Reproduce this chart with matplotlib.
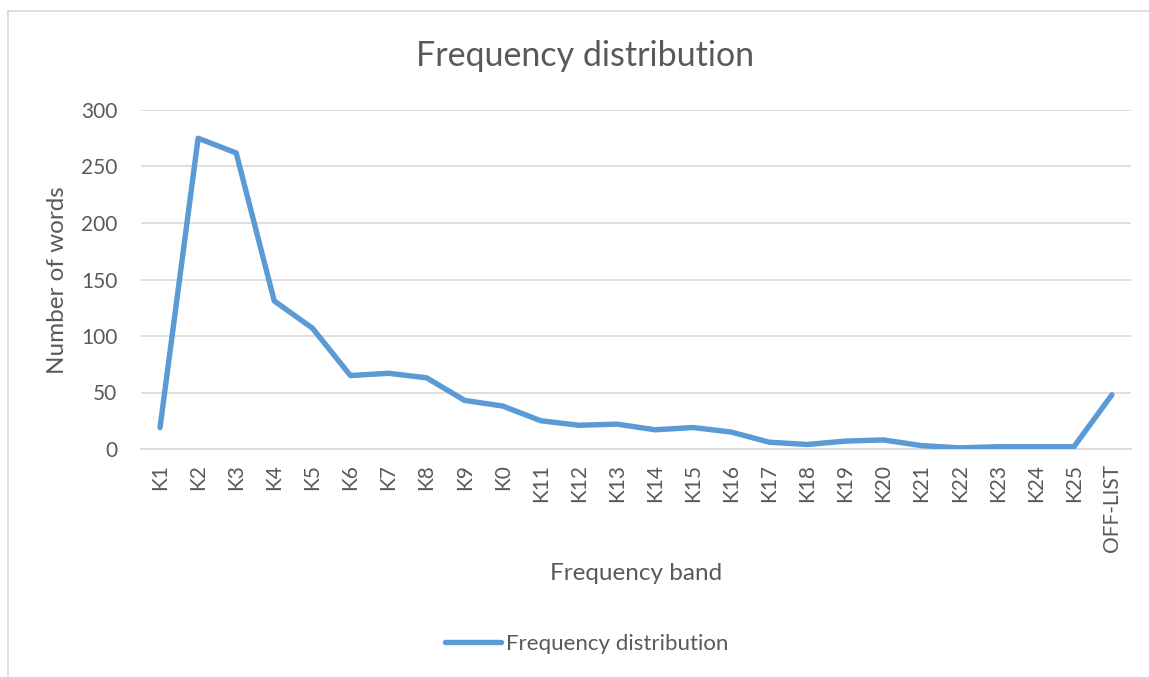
import matplotlib
matplotlib.use("Agg")
import matplotlib.pyplot as plt
from matplotlib.lines import Line2D

categories = ["K1", "K2", "K3", "K4", "K5", "K6", "K7", "K8", "K9", "K0",
              "K11", "K12", "K13", "K14", "K15", "K16", "K17", "K18", "K19", "K20",
              "K21", "K22", "K23", "K24", "K25", "OFF-LIST"]
values = [19, 275, 262, 131, 107, 65, 67, 63, 43, 38,
          25, 21, 22, 17, 19, 15, 6, 4, 7, 8,
          3, 1, 2, 2, 2, 48]
y_ticks = [0, 50, 100, 150, 200, 250, 300]

W, H = 1149, 677
TEXT = "#595959"
GRID = "#D9D9D9"
LINE = "#5B9BD5"
plt.rcParams['font.family'] = ['Lato', 'DejaVu Sans']

fig = plt.figure(figsize=(W / 100, H / 100), dpi=100)
fig.patch.set_facecolor("white")

# chart border (left and top visible)
fig.add_artist(Line2D([8 / W, 8 / W], [0, 1 - 11 / H], transform=fig.transFigure, color=GRID, lw=1.2))
fig.add_artist(Line2D([8 / W, 1], [1 - 11 / H, 1 - 11 / H], transform=fig.transFigure, color=GRID, lw=1.2))

ax = fig.add_axes([141 / W, 1 - 449 / H, (1131 - 141) / W, (449 - 110) / H])
x = list(range(len(categories)))
ax.plot(x, values, color=LINE, lw=3.9, solid_capstyle="round", solid_joinstyle="round",
        label="Frequency distribution", zorder=3)
ax.set_xlim(-0.5, len(categories) - 0.5)
ax.set_ylim(0, 300)
ax.set_yticks(y_ticks)
ax.set_xticks(x)
ax.set_xticklabels(categories, rotation=90)
ax.grid(axis="y", color=GRID, lw=1.2)
ax.set_axisbelow(True)
for s in ["top", "right", "left"]:
    ax.spines[s].set_visible(False)
ax.spines["bottom"].set_color(GRID)
ax.spines["bottom"].set_linewidth(1.2)
ax.tick_params(axis="y", length=0, pad=17, labelsize=15, labelcolor=TEXT)
ax.tick_params(axis="x", length=0, pad=11, labelsize=15, labelcolor=TEXT)

fig.text(585 / W, 1 - 56 / H, "Frequency distribution", ha="center", va="center",
         fontsize=24.5, color=TEXT)
fig.text(636 / W, 1 - 574 / H, "Frequency band", ha="center", va="center",
         fontsize=17.5, color=TEXT)
fig.text(58 / W, 1 - 280 / H, "Number of words", ha="center", va="center",
         rotation=90, fontsize=17.5, color=TEXT)

fig.legend(handles=ax.get_lines(), loc="center", bbox_to_anchor=(587 / W, 1 - 644 / H),
           frameon=False, fontsize=16, labelcolor=TEXT, handlelength=2.5, handletextpad=0.23)

fig.savefig("out.png", dpi=100, facecolor="white")
